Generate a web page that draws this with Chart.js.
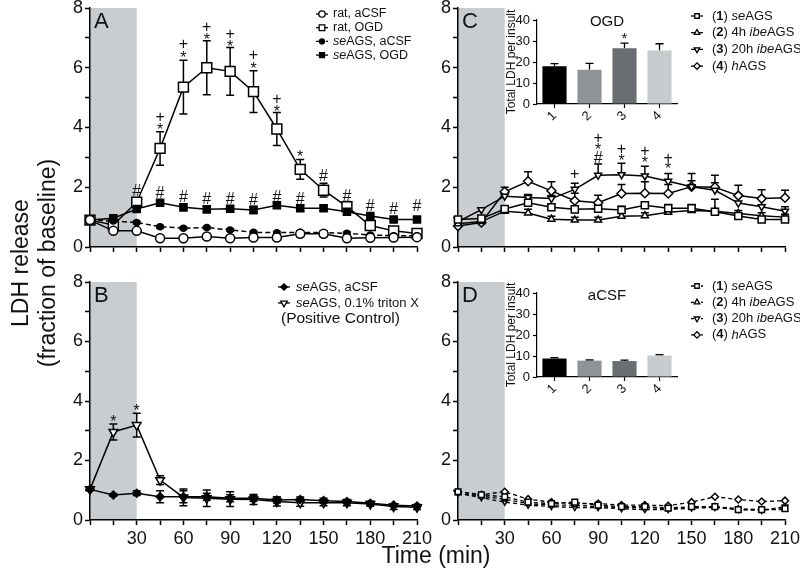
<!DOCTYPE html>
<html lang="en">
<head>
<meta charset="UTF-8">
<title>LDH release</title>
<script src="https://cdn.jsdelivr.net/npm/chart.js"></script>
<style>
  body { margin:0; background:#fff; width:800px; height:575px; overflow:hidden; position:relative;
         font-family:"Liberation Sans", Arial, sans-serif; color:#111; }
  canvas { position:absolute; }
  #cA { left:30px; top:-6px; }
  #cB { left:30px; top:268px; }
  #cC { left:398px; top:-6px; }
  #cD { left:398px; top:268px; }
  #iC { left:490px; top:0px; }
  #iD { left:490px; top:273px; }
  #ytitle { position:absolute; left:-116px; top:236px; width:300px; height:54px; line-height:27px;
            font-size:23px; text-align:center; transform:rotate(-90deg); }
  #xtitle { position:absolute; left:336px; top:542px; width:200px; text-align:center; font-size:23px; }
</style>
</head>
<body>
<canvas id="cA" width="410" height="268"></canvas>
<canvas id="cB" width="410" height="281"></canvas>
<canvas id="cC" width="410" height="268"></canvas>
<canvas id="cD" width="410" height="281"></canvas>
<canvas id="iC" width="195" height="130"></canvas>
<canvas id="iD" width="195" height="130"></canvas>
<div id="ytitle">LDH release<br>(fraction of baseline)</div>
<div id="xtitle">Time (min)</div>

<script>
  // time points (min)
  const times = [0, 15, 30, 45, 60, 75, 90, 105, 120, 135, 150, 165, 180, 195, 210];

  // panel A
  const ratAcsf    = [0.9, 0.54, 0.54, 0.29, 0.29, 0.35, 0.29, 0.32, 0.32, 0.44, 0.44, 0.29, 0.31, 0.32, 0.33];
  const ratAcsfErr = [0.05, 0.05, 0.05, 0.05, 0.05, 0.08, 0.05, 0.07, 0.08, 0.1, 0.1, 0.05, 0.05, 0.05, 0.05];
  const ratOgd     = [0.9, 0.74, 1.5, 3.3, 5.35, 6.0, 5.88, 5.2, 3.95, 2.6, 1.9, 1.35, 0.72, 0.54, 0.45];
  const ratOgdErr  = [0.05, 0.1, 0.15, 0.56, 0.9, 0.9, 0.8, 0.7, 0.55, 0.33, 0.23, 0.17, 0.08, 0.05, 0.05];
  const seAcsf     = [0.9, 0.87, 0.82, 0.68, 0.63, 0.65, 0.57, 0.49, 0.48, 0.49, 0.48, 0.46, 0.4, 0.38, 0.38];
  const seAcsfErr  = [0.03, 0.03, 0.04, 0.04, 0.04, 0.04, 0.04, 0.04, 0.04, 0.04, 0.04, 0.04, 0.04, 0.04, 0.04];
  const seOgd      = [0.9, 0.96, 1.27, 1.48, 1.33, 1.26, 1.28, 1.24, 1.4, 1.3, 1.3, 1.18, 1.04, 0.92, 0.92];
  const seOgdErr   = [0.05, 0.05, 0.08, 0.08, 0.12, 0.1, 0.1, 0.12, 0.1, 0.1, 0.08, 0.08, 0.05, 0.05, 0.05];
  const sigA = [
    [30, 1.91, '#'], [45, 1.82, '#'], [60, 1.71, '#'], [75, 1.63, '#'], [90, 1.63, '#'], [105, 1.6, '#'],
    [120, 1.71, '#'], [135, 1.63, '#'], [150, 2.41, '#'], [165, 1.74, '#'], [180, 1.41, '#'], [195, 1.3, '#'], [210, 1.4, '#'],
    [45, 4.03, '*'], [45, 4.37, '+'], [60, 6.44, '*'], [60, 6.83, '+'], [75, 7.06, '*'], [75, 7.39, '+'],
    [90, 6.83, '*'], [90, 7.16, '+'], [105, 6.1, '*'], [105, 6.44, '+'], [120, 4.65, '*'], [120, 4.98, '+'], [135, 3.14, '*']
  ];

  // panel B
  const bAcsf      = [1.03, 0.84, 0.9, 0.78, 0.78, 0.78, 0.73, 0.73, 0.67, 0.69, 0.65, 0.62, 0.56, 0.5, 0.47];
  const bAcsfErr   = [0.04, 0.04, 0.08, 0.2, 0.2, 0.12, 0.12, 0.1, 0.1, 0.08, 0.08, 0.07, 0.06, 0.05, 0.05];
  const bTriton    = [1.03, 2.96, 3.19, 1.34, 0.76, 0.73, 0.7, 0.69, 0.62, 0.58, 0.58, 0.58, 0.54, 0.45, 0.43];
  const bTritonErr = [0.04, 0.27, 0.4, 0.15, 0.28, 0.28, 0.25, 0.17, 0.15, 0.12, 0.1, 0.1, 0.08, 0.1, 0.08];
  const sigB = [[15, 3.41, '*'], [30, 3.78, '*']];

  // panel C (OGD)
  const c1    = [0.92, 0.95, 1.27, 1.48, 1.33, 1.26, 1.28, 1.24, 1.4, 1.3, 1.3, 1.18, 1.04, 0.92, 0.92];
  const c1Err = [0.05, 0.05, 0.08, 0.1, 0.1, 0.1, 0.12, 0.12, 0.1, 0.12, 0.12, 0.1, 0.08, 0.08, 0.08];
  const c2    = [0.78, 0.85, 1.2, 1.14, 0.93, 0.9, 0.9, 1.03, 1.05, 1.16, 1.22, 1.2, 1.12, 1.05, 1.0];
  const c2Err = [0.05, 0.05, 0.08, 0.12, 0.1, 0.1, 0.1, 0.1, 0.1, 0.1, 0.15, 0.4, 0.1, 0.1, 0.1];
  const c3    = [0.85, 1.25, 1.7, 1.66, 1.62, 1.93, 2.4, 2.42, 2.38, 2.2, 2.02, 1.9, 1.47, 1.35, 1.2];
  const c3Err = [0.05, 0.05, 0.1, 0.1, 0.1, 0.2, 0.38, 0.38, 0.32, 0.26, 0.2, 0.25, 0.3, 0.25, 0.15];
  const c4    = [0.7, 0.82, 1.85, 2.2, 1.88, 1.55, 1.48, 1.79, 1.8, 1.79, 2.02, 2.0, 1.72, 1.62, 1.65];
  const c4Err = [0.05, 0.05, 0.15, 0.32, 0.3, 0.25, 0.25, 0.3, 0.38, 0.3, 0.44, 0.4, 0.35, 0.3, 0.25];
  const sigC = [
    [75, 2.46, '+'], [90, 3.02, '#'], [90, 3.36, '*'], [90, 3.69, '+'], [105, 3.0, '*'], [105, 3.3, '+'],
    [120, 2.93, '*'], [120, 3.24, '+'], [135, 2.74, '*'], [135, 3.02, '+']
  ];

  // panel D (aCSF)
  const d1 = [0.95, 0.85, 0.78, 0.6, 0.55, 0.6, 0.5, 0.45, 0.45, 0.4, 0.45, 0.45, 0.35, 0.35, 0.38];
  const d2 = [0.9, 0.8, 0.7, 0.55, 0.5, 0.5, 0.45, 0.42, 0.42, 0.38, 0.42, 0.45, 0.38, 0.35, 0.35];
  const d3 = [0.9, 0.75, 0.6, 0.5, 0.45, 0.42, 0.42, 0.38, 0.35, 0.35, 0.4, 0.42, 0.35, 0.32, 0.45];
  const d4 = [0.95, 0.85, 0.95, 0.7, 0.6, 0.55, 0.55, 0.5, 0.5, 0.48, 0.6, 0.78, 0.69, 0.62, 0.65];

  // insets: total LDH per insult
  const insetLabels = ['1', '2', '3', '4'];
  const insetColors = ['#000000', '#8f9499', '#6a6d71', '#c8cbce'];
  const ogdTotal     = [18, 16.3, 26.5, 25.5];
  const ogdTotalErr  = [1.2, 3, 2.5, 3.2];
  const acsfTotal    = [8.8, 7.8, 7.6, 10.2];
  const acsfTotalErr = [0.4, 0.3, 0.4, 0.4];
  const sigInset = [[2, 33, '*']];

  const FONT = '"Liberation Sans", Arial, sans-serif';
  Chart.defaults.font.family = FONT;
  Chart.defaults.color = '#111';

  function fallbackPoint(ctx, o, x, y) {
    ctx.beginPath();
    ctx.arc(x, y, o.radius, 0, Math.PI * 2);
    ctx.fill();
    ctx.stroke();
  }
  const drawPt = (Chart.helpers && Chart.helpers.drawPoint) || fallbackPoint;

  // grey insult window 0-30 min
  const shade = {
    id: 'shade',
    beforeDraw(chart, args, o) {
      if (o.to == null) return;
      const { ctx, chartArea: a, scales: { x } } = chart;
      const x0 = x.getPixelForValue(0), x1 = x.getPixelForValue(o.to);
      ctx.save();
      ctx.fillStyle = o.color;
      ctx.fillRect(x0, a.top, x1 - x0, a.bottom - a.top);
      ctx.restore();
    }
  };

  const errorBars = {
    id: 'errorBars',
    beforeDatasetsDraw(chart) {
      const ctx = chart.ctx;
      ctx.save();
      ctx.strokeStyle = '#000';
      chart.data.datasets.forEach((ds, i) => {
        if (!ds.errors) return;
        const meta = chart.getDatasetMeta(i);
        const ys = chart.scales[meta.yAxisID];
        const cap = ds.errCap || 4;
        ctx.lineWidth = ds.errWidth || 1.5;
        meta.data.forEach((el, j) => {
          const e = ds.errors[j];
          if (!e) return;
          const d = ds.data[j];
          const v = typeof d === 'object' ? d.y : d;
          const yt = ys.getPixelForValue(v + e);
          const yb = ds.errUp ? el.y : ys.getPixelForValue(v - e);
          ctx.beginPath();
          ctx.moveTo(el.x, yb); ctx.lineTo(el.x, yt);
          ctx.moveTo(el.x - cap, yt); ctx.lineTo(el.x + cap, yt);
          if (!ds.errUp) { ctx.moveTo(el.x - cap, yb); ctx.lineTo(el.x + cap, yb); }
          ctx.stroke();
        });
      });
      ctx.restore();
    }
  };

  // significance symbols (*, +, #)
  const marks = {
    id: 'marks',
    afterDatasetsDraw(chart, args, o) {
      if (!o.items) return;
      const { ctx, scales: { x, y } } = chart;
      const size = o.size || 16;
      ctx.save();
      ctx.fillStyle = '#111';
      ctx.textAlign = 'center';
      ctx.textBaseline = 'alphabetic';
      ctx.font = size + 'px ' + FONT;
      o.items.forEach(([vx, vy, t]) => {
        const px = x.getPixelForValue(vx), py = y.getPixelForValue(vy);
        ctx.fillText(t, px, py + (t === '*' ? 0.55 : 0.36) * size);
      });
      ctx.restore();
    }
  };

  const panelText = {
    id: 'panelText',
    afterDraw(chart, args, o) {
      if (!o.texts) return;
      const { ctx, chartArea: a } = chart;
      o.texts.forEach(t => {
        ctx.save();
        ctx.font = t.size + 'px ' + FONT;
        ctx.fillStyle = '#111';
        ctx.textAlign = t.align || 'left';
        const x = t.align === 'center' ? (a.left + a.right) / 2 : a.left + t.dx;
        ctx.fillText(t.text, x, a.top + t.dy);
        ctx.restore();
      });
    }
  };

  // legend with mixed italic / bold runs, positions given in page pixels
  const richLegend = {
    id: 'richLegend',
    afterDraw(chart, args, o) {
      if (!o.items) return;
      const ctx = chart.ctx, ox = chart.canvas.offsetLeft, oy = chart.canvas.offsetTop;
      ctx.save();
      ctx.textBaseline = 'middle';
      o.items.forEach((it, i) => {
        const y = (it.y != null ? it.y : o.y + i * o.gap) - oy;
        if (it.ds != null) {
          const ds = chart.data.datasets[it.ds];
          const mx = o.mx - ox;
          ctx.strokeStyle = '#000';
          ctx.lineWidth = 1.3;
          ctx.setLineDash(ds.borderDash ? [3, 2] : []);
          ctx.beginPath(); ctx.moveTo(mx - o.half, y); ctx.lineTo(mx + o.half, y); ctx.stroke();
          ctx.setLineDash([]);
          ctx.fillStyle = ds.pointBackgroundColor;
          drawPt(ctx, { pointStyle: ds.pointStyle, rotation: ds.pointRotation || 0,
                        radius: ds.legendRadius || 3.2, borderWidth: 1.2 }, mx, y);
        }
        ctx.fillStyle = '#111';
        let tx = (it.x != null ? it.x : o.tx) - ox;
        it.runs.forEach(r => {
          ctx.font = (r[1] || '') + ' ' + (it.size || o.size) + 'px ' + FONT;
          ctx.fillText(r[0], tx, y);
          tx += ctx.measureText(r[0]).width;
        });
      });
      ctx.restore();
    }
  };

  Chart.register(shade, errorBars, marks, panelText, richLegend);

  function line(label, vals, err, style) {
    return Object.assign({
      label,
      data: times.map((t, i) => ({ x: t, y: vals[i] })),
      errors: err,
      borderColor: '#000', borderWidth: 1.5, tension: 0, clip: false,
      pointBorderColor: '#000', pointBorderWidth: 1.5, pointBackgroundColor: '#fff',
      pointStyle: 'circle', pointRadius: 4
    }, style);
  }

  const axisGrid = { drawOnChartArea: false, tickLength: 5, tickColor: '#000', tickWidth: 1.5 };
  const axisBorder = { color: '#000', width: 1.5 };

  function makePanel(id, datasets, o) {
    return new Chart(document.getElementById(id), {
      type: 'line',
      data: { datasets },
      options: {
        responsive: false, animation: false, events: [],
        layout: { padding: { top: 14, right: 23, left: 0, bottom: 0 } },
        plugins: {
          legend: { display: false }, tooltip: { enabled: false },
          shade: { to: 30, color: '#cacdd0' },
          marks: { items: o.marks, size: 16 },
          panelText: { texts: [{ text: o.letter, size: 22, dx: 4, dy: 20 }] },
          richLegend: o.legend
        },
        scales: {
          x: {
            type: 'linear', min: 0, max: 210,
            afterFit: s => { s.height = o.xh; },
            ticks: { stepSize: 15, autoSkip: false, maxRotation: 0, minRotation: 0, padding: 3,
                     font: { size: 18 }, color: '#111',
                     callback: v => (o.xLabels && v > 0 && v % 30 === 0) ? v : '' },
            grid: axisGrid, border: axisBorder
          },
          y: {
            min: 0, max: 8,
            afterFit: s => { s.width = 60; },
            ticks: { stepSize: 1, padding: 2, font: { size: 18 }, color: '#111',
                     callback: v => v % 2 === 0 ? v : '' },
            grid: axisGrid, border: axisBorder
          }
        }
      }
    });
  }

  function makeInset(id, vals, err, title, titleDy, sig) {
    return new Chart(document.getElementById(id), {
      type: 'bar',
      data: {
        labels: insetLabels,
        datasets: [{ data: vals, errors: err, errUp: true, errCap: 4, errWidth: 1.3,
                     backgroundColor: insetColors, borderWidth: 0,
                     barPercentage: 0.69, categoryPercentage: 1 }]
      },
      options: {
        responsive: false, animation: false, events: [],
        layout: { padding: { top: 20, right: 8, left: 14, bottom: 0 } },
        plugins: {
          legend: { display: false }, tooltip: { enabled: false },
          marks: { items: sig, size: 15 },
          panelText: { texts: [{ text: title, size: 15, align: 'center', dy: titleDy }] }
        },
        scales: {
          x: {
            afterFit: s => { s.height = 26; },
            ticks: { maxRotation: 45, minRotation: 45, padding: 0, font: { size: 13 }, color: '#111' },
            grid: { offset: false, drawOnChartArea: false, tickLength: 4, tickColor: '#000', tickWidth: 1.2 },
            border: { color: '#000', width: 1.2 }
          },
          y: {
            min: 0, max: 40,
            afterFit: s => { s.width = 33; },
            ticks: { stepSize: 10, padding: 3, font: { size: 13 }, color: '#111' },
            title: { display: true, text: 'Total LDH per insult', font: { size: 12 }, padding: 0, color: '#111' },
            grid: { drawOnChartArea: false, tickLength: 4, tickColor: '#000', tickWidth: 1.2 },
            border: { color: '#000', width: 1.2 }
          }
        }
      }
    });
  }

  makePanel('cA', [
    line('rat, aCSF', ratAcsf, ratAcsfErr, { pointRadius: 4.5 }),
    line('seAGS, aCSF', seAcsf, seAcsfErr, { borderDash: [5, 3], pointBackgroundColor: '#000', pointRadius: 3, legendRadius: 2.5 }),
    line('seAGS, OGD', seOgd, seOgdErr, { pointStyle: 'rect', pointBackgroundColor: '#000', pointRadius: 5, legendRadius: 3.5 }),
    line('rat, OGD', ratOgd, ratOgdErr, { pointStyle: 'rect', pointRadius: 7, legendRadius: 4 })
  ], {
    letter: 'A', xh: 15, xLabels: false, marks: sigA,
    legend: { mx: 322, tx: 333, y: 14, gap: 13.7, half: 6, size: 12.5, items: [
      { ds: 0, runs: [['rat, aCSF']] },
      { ds: 3, runs: [['rat, OGD']] },
      { ds: 1, runs: [['se', 'italic'], ['AGS, aCSF']] },
      { ds: 2, runs: [['se', 'italic'], ['AGS, OGD']] }
    ] }
  });

  makePanel('cB', [
    line('seAGS, aCSF', bAcsf, bAcsfErr, { pointStyle: 'rectRot', pointBackgroundColor: '#000', pointRadius: 4 }),
    line('seAGS, 0.1% triton X', bTriton, bTritonErr, { pointStyle: 'triangle', pointRotation: 180, pointRadius: 5, legendRadius: 3.8 })
  ], {
    letter: 'B', xh: 29, xLabels: true, marks: sigB,
    legend: { mx: 284, tx: 296, y: 287, gap: 16, half: 6, size: 13, items: [
      { ds: 0, runs: [['se', 'italic'], ['AGS, aCSF']] },
      { ds: 1, runs: [['se', 'italic'], ['AGS, 0.1% triton X']] },
      { runs: [['(Positive Control)']], x: 281, y: 319, size: 15.5 }
    ] }
  });

  makePanel('cC', [
    line('(1) seAGS', c1, c1Err, { pointStyle: 'rect', pointRadius: 5, errUp: true }),
    line('(2) 4h ibeAGS', c2, c2Err, { pointStyle: 'triangle', pointRadius: 4, errUp: true }),
    line('(3) 20h ibeAGS', c3, c3Err, { pointStyle: 'triangle', pointRotation: 180, pointRadius: 4, errUp: true }),
    line('(4) hAGS', c4, c4Err, { pointStyle: 'rectRot', pointRadius: 4.5, errUp: true })
  ], {
    letter: 'C', xh: 15, xLabels: false, marks: sigC,
    legend: { mx: 697, tx: 712, y: 16, gap: 16.7, half: 6, size: 13, items: [
      { ds: 0, runs: [['('], ['1', 'bold'], [') '], ['se', 'italic'], ['AGS']] },
      { ds: 1, runs: [['('], ['2', 'bold'], [') 4h '], ['ibe', 'italic'], ['AGS']] },
      { ds: 2, runs: [['('], ['3', 'bold'], [') 20h '], ['ibe', 'italic'], ['AGS']] },
      { ds: 3, runs: [['('], ['4', 'bold'], [') '], ['h', 'italic'], ['AGS']] }
    ] }
  });

  makePanel('cD', [
    line('(1) seAGS', d1, null, { pointStyle: 'rect', pointRadius: 4, borderDash: [4, 3], borderWidth: 1.3 }),
    line('(2) 4h ibeAGS', d2, null, { pointStyle: 'triangle', pointRadius: 3, borderDash: [4, 3], borderWidth: 1.3 }),
    line('(3) 20h ibeAGS', d3, null, { pointStyle: 'triangle', pointRotation: 180, pointRadius: 3, borderDash: [4, 3], borderWidth: 1.3 }),
    line('(4) hAGS', d4, null, { pointStyle: 'rectRot', pointRadius: 3.5, borderDash: [4, 3], borderWidth: 1.3 })
  ], {
    letter: 'D', xh: 29, xLabels: true, marks: [],
    legend: { mx: 697, tx: 712, y: 286, gap: 16.3, half: 6, size: 13, items: [
      { ds: 0, runs: [['('], ['1', 'bold'], [') '], ['se', 'italic'], ['AGS']] },
      { ds: 1, runs: [['('], ['2', 'bold'], [') 4h '], ['ibe', 'italic'], ['AGS']] },
      { ds: 2, runs: [['('], ['3', 'bold'], [') 20h '], ['ibe', 'italic'], ['AGS']] },
      { ds: 3, runs: [['('], ['4', 'bold'], [') '], ['h', 'italic'], ['AGS']] }
    ] }
  });

  makeInset('iC', ogdTotal, ogdTotalErr, 'OGD', 6, sigInset);
  makeInset('iD', acsfTotal, acsfTotalErr, 'aCSF', 7, []);
</script>
</body>
</html>
